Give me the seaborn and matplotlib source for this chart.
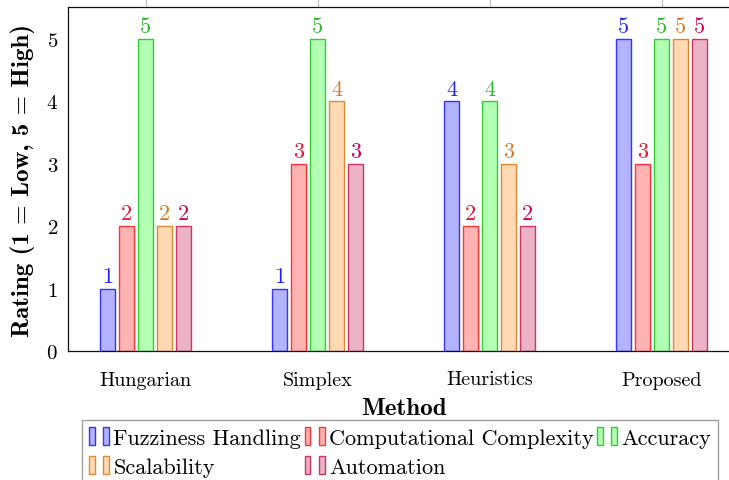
import pandas as pd
import matplotlib.pyplot as plt
import seaborn as sns
from matplotlib.patches import Patch
from matplotlib.legend_handler import HandlerTuple

# data
methods = ["Hungarian", "Simplex", "Heuristics", "Proposed"]
criteria = ["Fuzziness Handling", "Computational Complexity", "Accuracy", "Scalability", "Automation"]
fuzziness = [1, 1, 4, 5]
complexity = [2, 3, 2, 3]
accuracy = [5, 5, 4, 5]
scalability = [2, 4, 3, 5]
automation = [2, 3, 2, 5]

fills = ["#b3b3ff", "#ffb3b3", "#b3ffb3", "#ffd9b3", "#ecb3c7"]
edges = ["#3333ff", "#ff3333", "#33cc33", "#dd8833", "#cc3366"]
texts = ["#2020ff", "#ee1133", "#22bb22", "#dd7722", "#cc0055"]

rows = []
for crit, vals in zip(criteria, [fuzziness, complexity, accuracy, scalability, automation]):
    for m, v in zip(methods, vals):
        rows.append({"Method": m, "Criterion": crit, "Rating": v})
df = pd.DataFrame(rows)

sns.set_style("white")
plt.rcParams["font.family"] = ["cmr10"]
plt.rcParams["mathtext.fontset"] = "cm"
plt.rcParams["axes.formatter.use_mathtext"] = True
plt.rcParams["text.color"] = "black"
plt.rcParams["axes.labelcolor"] = "black"
plt.rcParams["xtick.labelcolor"] = "black"
plt.rcParams["ytick.labelcolor"] = "black"

fig = plt.figure(figsize=(7.29, 4.81), dpi=100)
ax = fig.add_axes([0.093, 0.268, 0.922, 0.715])

sns.barplot(data=df, x="Method", y="Rating", hue="Criterion", hue_order=criteria,
            palette=fills, saturation=1, width=0.553, gap=0.21, ax=ax, legend=False)

for i, cont in enumerate(ax.containers):
    for bar in cont:
        bar.set_edgecolor(edges[i])
        bar.set_linewidth(1.0)
    ax.bar_label(cont, fmt="%d", color=texts[i], fontsize=16, padding=2)

ax.set_ylim(0, 5.51)
ax.set_xlim(-0.453, 3.454)
ax.set_yticks([0, 1, 2, 3, 4, 5])
ax.tick_params(axis="y", direction="in", length=6, color="#bbbbbb", labelsize=15, pad=7)
ax.tick_params(axis="x", direction="out", length=6, color="#bbbbbb", labelsize=14.5, top=True, pad=8)
for s in ax.spines.values():
    s.set_color("#111111")
    s.set_linewidth(0.9)

ax.set_xlabel("Method", fontfamily="cmb10", fontsize=18, labelpad=6)
ax.set_ylabel("Rating (1 = Low, 5 = High)", fontfamily="cmb10", fontsize=18, labelpad=8)

# legend laid out row by row in three columns
handles = [(Patch(facecolor=f, edgecolor=e), Patch(facecolor=f, edgecolor=e)) for f, e in zip(fills, edges)]
order = [0, 3, 1, 4, 2]
leg = fig.legend([handles[i] for i in order], [criteria[i] for i in order],
                 handler_map={tuple: HandlerTuple(ndivide=None, pad=0.4)},
                 loc="upper left", bbox_to_anchor=(0.113, 0.124), ncol=3,
                 fontsize=16, frameon=True, fancybox=False, handlelength=0.9,
                 handleheight=0.9, handletextpad=0.2, columnspacing=0.15,
                 borderpad=0.3, labelspacing=0.35, borderaxespad=0)
leg.get_frame().set_edgecolor("#888888")
leg.get_frame().set_linewidth(1.0)

fig.savefig("out.png", dpi=100)
